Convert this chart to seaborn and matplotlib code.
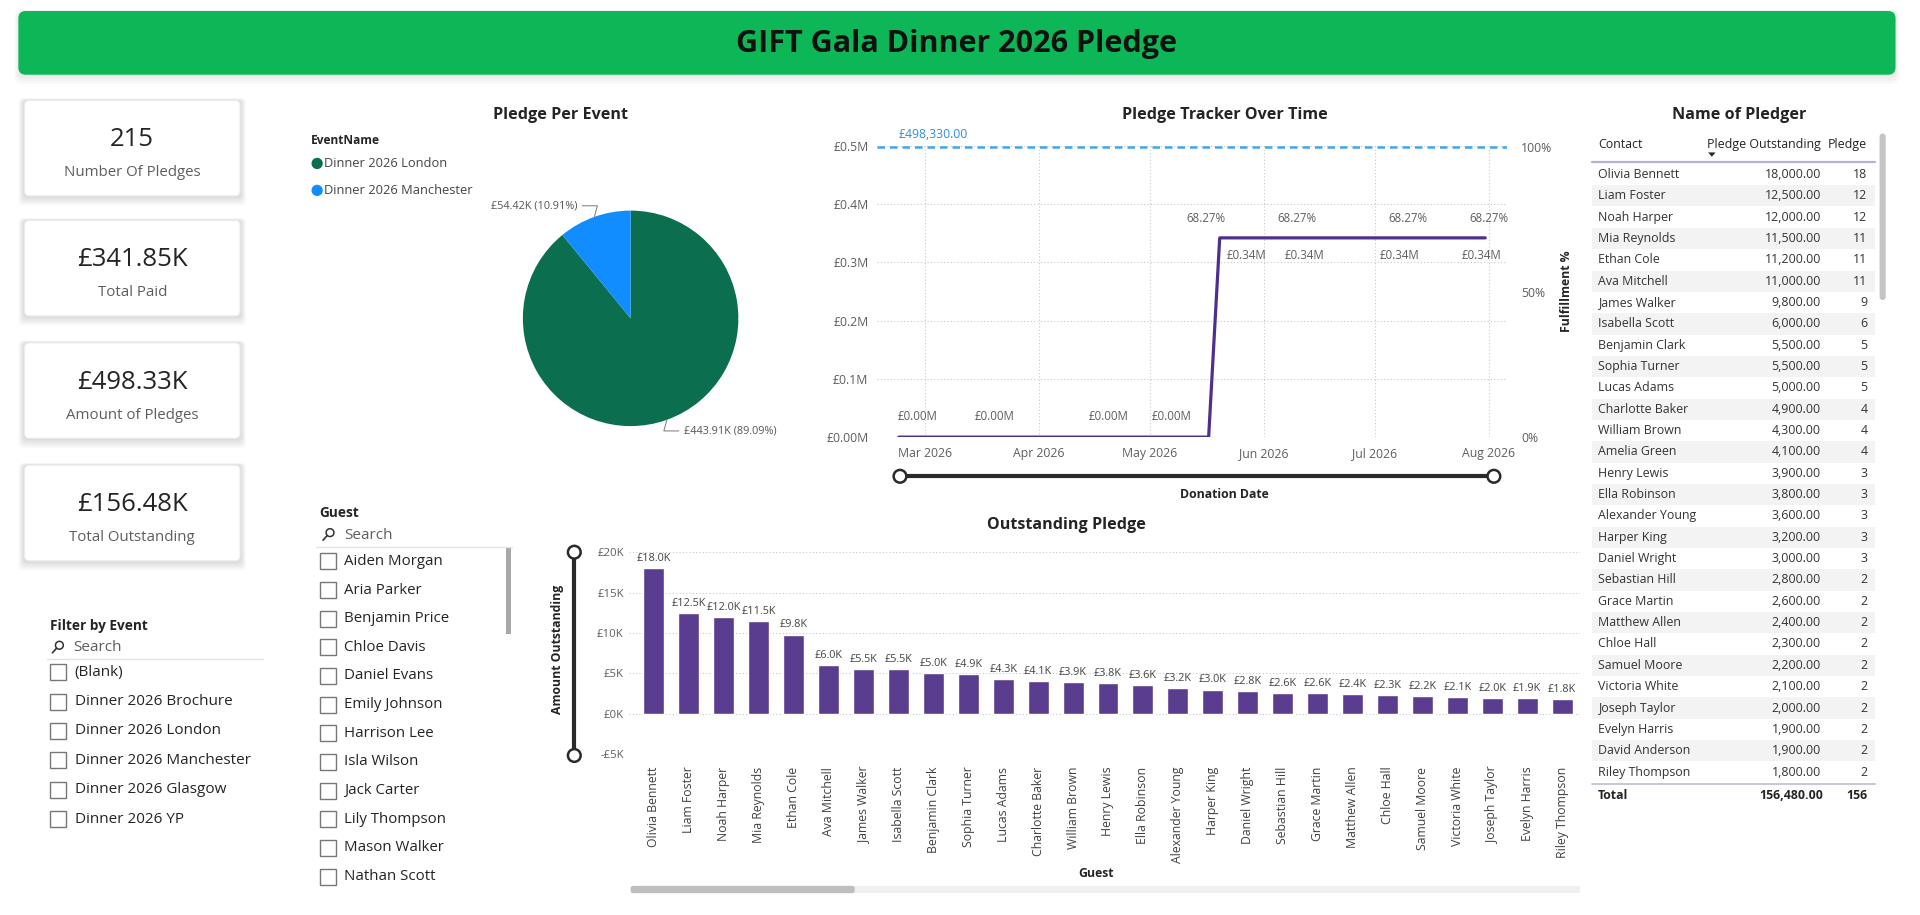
import numpy as np
import pandas as pd
import matplotlib
matplotlib.use("Agg")
import matplotlib.pyplot as plt
import matplotlib.dates as mdates
from matplotlib.ticker import FuncFormatter, FixedLocator
from matplotlib.patches import FancyBboxPatch, Rectangle, Circle, Polygon
import seaborn as sns

sns.set_theme(style="white")
plt.rcParams["font.family"] = ["Open Sans", "DejaVu Sans"]

# ---------------- data ----------------
dashboard_title = "GIFT Gala Dinner 2026 Pledge"
kpi_values = ["215", "£341.85K", "£498.33K", "£156.48K"]
kpi_labels = ["Number Of Pledges", "Total Paid", "Amount of Pledges", "Total Outstanding"]

event_options = ["(Blank)", "Dinner 2026 Brochure", "Dinner 2026 London",
                 "Dinner 2026 Manchester", "Dinner 2026 Glasgow", "Dinner 2026 YP"]
guest_options = ["Aiden Morgan", "Aria Parker", "Benjamin Price", "Chloe Davis",
                 "Daniel Evans", "Emily Johnson", "Harrison Lee", "Isla Wilson",
                 "Jack Carter", "Lily Thompson", "Mason Walker", "Nathan Scott"]

pie_events = ["Dinner 2026 London", "Dinner 2026 Manchester"]
pie_values = [443910, 54420]
pie_pct = [89.09, 10.91]
pie_colors = ["#0B6E4F", "#118DFF"]

donation_dates = pd.to_datetime(["2026-02-22", "2026-02-27", "2026-03-20", "2026-04-20",
                                 "2026-05-07", "2026-05-17", "2026-05-20", "2026-06-11",
                                 "2026-07-09", "2026-07-31"])
paid_cumulative = [0, 0, 0, 0, 0, 0, 341850, 341850, 341850, 341850]
fulfilment_pct = [0, 0, 0, 0, 0, 0, 68.27, 68.27, 68.27, 68.27]
point_labelled = [False, True, True, True, True, False, True, True, True, True]
pledge_target = 498330.00

bar_guests = ["Olivia Bennett", "Liam Foster", "Noah Harper", "Mia Reynolds", "Ethan Cole",
              "Ava Mitchell", "James Walker", "Isabella Scott", "Benjamin Clark",
              "Sophia Turner", "Lucas Adams", "Charlotte Baker", "William Brown",
              "Henry Lewis", "Ella Robinson", "Alexander Young", "Harper King",
              "Daniel Wright", "Sebastian Hill", "Grace Martin", "Matthew Allen",
              "Chloe Hall", "Samuel Moore", "Victoria White", "Joseph Taylor",
              "Evelyn Harris", "Riley Thompson"]
bar_outstanding = [18000, 12500, 12000, 11500, 9800, 6000, 5500, 5500, 5000, 4900, 4300,
                   4100, 3900, 3800, 3600, 3200, 3000, 2800, 2600, 2600, 2400, 2300,
                   2200, 2100, 2000, 1900, 1800]

table_contacts = ["Olivia Bennett", "Liam Foster", "Noah Harper", "Mia Reynolds", "Ethan Cole",
                  "Ava Mitchell", "James Walker", "Isabella Scott", "Benjamin Clark",
                  "Sophia Turner", "Lucas Adams", "Charlotte Baker", "William Brown",
                  "Amelia Green", "Henry Lewis", "Ella Robinson", "Alexander Young",
                  "Harper King", "Daniel Wright", "Sebastian Hill", "Grace Martin",
                  "Matthew Allen", "Chloe Hall", "Samuel Moore", "Victoria White",
                  "Joseph Taylor", "Evelyn Harris", "David Anderson", "Riley Thompson"]
table_outstanding = [18000, 12500, 12000, 11500, 11200, 11000, 9800, 6000, 5500, 5500, 5000,
                     4900, 4300, 4100, 3900, 3800, 3600, 3200, 3000, 2800, 2600, 2400,
                     2300, 2200, 2100, 2000, 1900, 1900, 1800]
table_pledges = [18, 12, 12, 11, 11, 11, 9, 6, 5, 5, 5, 4, 4, 4, 3, 3, 3, 3, 3, 2, 2, 2,
                 2, 2, 2, 2, 2, 2, 2]
table_total_outstanding = 156480.00
table_total_pledges = 156

# ---------------- layout helpers ----------------
W, H = 1568.0, 747.3
fig = plt.figure(figsize=(19.2, 9.15), dpi=100, facecolor="white")


def rect(x0, y0, x1, y1):
    return [x0 / W, 1 - y1 / H, (x1 - x0) / W, (y1 - y0) / H]


DARK = "#252423"
GREY = "#605E5C"
TITLE_FS = 11.6

bg = fig.add_axes([0, 0, 1, 1])
bg.set_xlim(0, W)
bg.set_ylim(H, 0)
bg.axis("off")

# title bar
for k in range(4):
    bg.add_patch(FancyBboxPatch((15 - k, 9 - k * 0.3), 1533 + 2 * k, 53 + 2.5 * k,
                                boxstyle="round,pad=0,rounding_size=6",
                                fc="#000000", ec="none", alpha=0.025))
bg.add_patch(FancyBboxPatch((15, 9), 1533, 52, boxstyle="round,pad=0,rounding_size=6",
                            fc="#0DB757", ec="none"))
bg.text(781, 36, dashboard_title, ha="center", va="center", fontsize=22,
        fontweight="bold", color="#111111")

# KPI cards
card_tops = [82, 180, 280, 380]
for top, val, lab in zip(card_tops, kpi_values, kpi_labels):
    for k in range(1, 7):
        bg.add_patch(FancyBboxPatch((20 - k * 0.8, top - k * 0.3), 176 + k * 1.6, 78 + k * 1.6,
                                    boxstyle="round,pad=0,rounding_size=4",
                                    fc="#000000", ec="none", alpha=0.022))
    bg.add_patch(FancyBboxPatch((20, top), 176, 78, boxstyle="round,pad=0,rounding_size=4",
                                fc="white", ec="#ECECEC", lw=0.8))
    bg.text(108, top + 32, val, ha="center", va="center", fontsize=18.5, color=DARK)
    bg.text(108, top + 59, lab, ha="center", va="center", fontsize=10.8, color=GREY)


def search_icon(x, y):
    bg.add_patch(Circle((x + 3.5, y - 2), 3.2, fc="none", ec="#333333", lw=1.1))
    bg.plot([x + 1.2, x - 2.2], [y + 0.4, y + 4.2], color="#333333", lw=1.2)


# Filter by Event slicer
bg.text(41, 511, "Filter by Event", ha="left", va="center", fontsize=9.8,
        fontweight="bold", color=DARK)
search_icon(45, 529)
bg.text(60, 529, "Search", ha="left", va="center", fontsize=11, color=GREY)
bg.plot([38, 215], [538.5, 538.5], color="#E3E3E3", lw=1)
for i, opt in enumerate(event_options):
    yy = 549 + 24 * i
    bg.add_patch(Rectangle((41, yy - 6.5), 13, 13, fc="white", ec="#777777", lw=1))
    bg.text(61, yy, opt, ha="left", va="center", fontsize=11, color=DARK)

# Guest slicer
bg.text(261, 419, "Guest", ha="left", va="center", fontsize=9.8, fontweight="bold", color=DARK)
search_icon(266, 437)
bg.text(281, 437, "Search", ha="left", va="center", fontsize=11, color=GREY)
bg.plot([258, 418], [446.5, 446.5], color="#E3E3E3", lw=1)
bg.add_patch(Rectangle((413, 447), 4.5, 71, fc="#A8A8A8", ec="none"))
for i, g in enumerate(guest_options):
    yy = 458.5 + 23.4 * i
    bg.add_patch(Rectangle((261, yy - 6.5), 13, 13, fc="white", ec="#777777", lw=1))
    bg.text(281, yy, g, ha="left", va="center", fontsize=10.8, color=DARK)

# ---------------- pie ----------------
bg.text(458, 94, "Pledge Per Event", ha="center", va="center", fontsize=TITLE_FS,
        fontweight="bold", color=DARK)
bg.text(254, 115, "EventName", ha="left", va="center", fontsize=8.6, fontweight="bold", color=DARK)
for i, (ev, colr) in enumerate(zip(pie_events, pie_colors)):
    yy = 133.5 + 22 * i
    bg.add_patch(Circle((259, yy), 4.6, fc=colr, ec="none"))
    bg.text(264.5, yy, ev, ha="left", va="center", fontsize=9.3, color="#444444")

axp = fig.add_axes(rect(427, 172, 603, 348))
wedges, _ = axp.pie(pie_values, colors=pie_colors, startangle=90, counterclock=False,
                    wedgeprops=dict(linewidth=0))
axp.set_xlim(-1.0, 1.0)
axp.set_ylim(-1.0, 1.0)
axp.set_aspect("equal")
label_offsets = [(12, -8), (-12, 8)]
for w, v, pc, off in zip(wedges, pie_values, pie_pct, label_offsets):
    ang = np.deg2rad((w.theta1 + w.theta2) / 2)
    xy = (np.cos(ang), np.sin(ang))
    txt = f"£{v / 1000:.2f}K ({pc:.2f}%)"
    axp.annotate(txt, xy=xy, xytext=off, textcoords="offset points",
                 ha="left" if off[0] > 0 else "right", va="center", fontsize=7.8,
                 color="#555555", annotation_clip=False,
                 arrowprops=dict(arrowstyle="-", color="#888888", lw=0.8, shrinkA=1, shrinkB=0,
                                 connectionstyle="angle,angleA=0,angleB=75,rad=0"))

# ---------------- line chart ----------------
bg.text(1000, 94, "Pledge Tracker Over Time", ha="center", va="center", fontsize=TITLE_FS,
        fontweight="bold", color=DARK)
axl = fig.add_axes(rect(716, 119, 1231, 357))
axl.set_facecolor("none")
line_df = pd.DataFrame({"date": donation_dates, "paid": paid_cumulative})
sns.lineplot(data=line_df, x="date", y="paid", ax=axl, color="#4E2F8C", linewidth=2.3)
axl.axhline(pledge_target, color="#41A5EE", lw=1.8, ls=(0, (3, 2)))
axl.text(donation_dates[0], pledge_target + 9000, f"£{pledge_target:,.2f}", ha="left",
         va="bottom", fontsize=8.8, color="#2B8FE6")
axl.set_xlim(pd.Timestamp("2026-02-16"), pd.Timestamp("2026-08-06"))
axl.set_ylim(0, 500000)
axl.yaxis.set_major_locator(FixedLocator(np.arange(0, 500001, 100000)))
axl.yaxis.set_major_formatter(FuncFormatter(lambda v, p: "£0.00M" if v == 0 else f"£{v / 1e6:.1f}M"))
axl.xaxis.set_major_locator(mdates.MonthLocator(bymonth=[3, 4, 5, 6, 7, 8]))
axl.xaxis.set_major_formatter(mdates.DateFormatter("%b %Y"))
axl.grid(True, color="#C8C8C8", ls=(0, (1, 2)), lw=0.8)
for s in axl.spines.values():
    s.set_visible(False)
axl.tick_params(axis="both", length=0, labelsize=8.8, labelcolor=GREY)
axl.tick_params(axis="x", pad=7)
axl.tick_params(axis="y", pad=6)
axl.set_xlabel("")
axl.set_ylabel("")
# label nudges (points) to avoid the rising line, as the reference does
pct_dx = [-10, -3, 3, 3]
val_dx = [19, 3, -3, -3]
k = 0
for d, v, pct, show in zip(donation_dates, paid_cumulative, fulfilment_pct, point_labelled):
    if not show:
        continue
    if v == 0:
        axl.annotate(f"£{v / 1e6:.2f}M", (d, v), xytext=(0, 10), textcoords="offset points",
                     ha="center", va="bottom", fontsize=8.3, color=GREY)
    else:
        axl.annotate(f"{pct:.2f}%", (d, v), xytext=(pct_dx[k], 9), textcoords="offset points",
                     ha="center", va="bottom", fontsize=8.3, color=GREY)
        axl.annotate(f"£{v / 1e6:.2f}M", (d, v), xytext=(val_dx[k], -8),
                     textcoords="offset points", ha="center", va="top", fontsize=8.3, color=GREY)
        k += 1
axr = axl.twinx()
axr.set_ylim(0, 500000 / pledge_target * 100)
axr.yaxis.set_major_locator(FixedLocator([0, 50, 100]))
axr.yaxis.set_major_formatter(FuncFormatter(lambda v, p: f"{v:.0f}%"))
axr.tick_params(axis="y", length=0, labelsize=8.8, labelcolor=GREY, pad=10)
axr.grid(False)
for s in axr.spines.values():
    s.set_visible(False)
bg.text(1279, 238, "Fulfillment %", ha="center", va="center", rotation=90, fontsize=8.8,
        fontweight="bold", color=DARK)
# date slider
bg.plot([735, 1220], [389, 389], color="#2A2A2A", lw=3, solid_capstyle="butt")
for cx in (735, 1220):
    bg.add_patch(Circle((cx, 389), 5.2, fc="white", ec="#2A2A2A", lw=1.8, zorder=5))
bg.text(1000, 404, "Donation Date", ha="center", va="center", fontsize=8.8,
        fontweight="bold", color=DARK)

# ---------------- bar chart ----------------
bg.text(871, 429, "Outstanding Pledge", ha="center", va="center", fontsize=TITLE_FS,
        fontweight="bold", color=DARK)
axb = fig.add_axes(rect(514, 451, 1290, 616))
axb.set_facecolor("none")
bar_df = pd.DataFrame({"guest": bar_guests, "outstanding": bar_outstanding})
sns.barplot(data=bar_df, x="guest", y="outstanding", ax=axb, color="#5B3D8F",
            saturation=1, width=0.6)
axb.bar_label(axb.containers[0], labels=[f"£{v / 1000:.1f}K" for v in bar_outstanding],
              padding=3, fontsize=7.8, color="#444444")
axb.set_xlim(-0.7, len(bar_guests) - 0.5)
axb.set_ylim(-5000, 20000)
axb.yaxis.set_major_locator(FixedLocator(np.arange(-5000, 20001, 5000)))
axb.yaxis.set_major_formatter(FuncFormatter(
    lambda v, p: f"£{v / 1000:.0f}K" if v >= 0 else f"-£{abs(v) / 1000:.0f}K"))
axb.grid(True, axis="y", color="#C8C8C8", ls=(0, (1, 2)), lw=0.8)
axb.set_axisbelow(True)
for s in axb.spines.values():
    s.set_visible(False)
axb.tick_params(axis="both", length=0, labelsize=8.2, labelcolor=GREY)
axb.tick_params(axis="x", rotation=90, pad=9, labelcolor="#404040", labelsize=8.8)
axb.tick_params(axis="y", pad=4)
axb.set_xlabel("")
axb.set_ylabel("")
bg.text(455, 530, "Amount Outstanding", ha="center", va="center", rotation=90, fontsize=8.8,
        fontweight="bold", color=DARK)
bg.plot([469, 469], [451, 617], color="#2A2A2A", lw=3, solid_capstyle="butt")
for cy in (451, 617):
    bg.add_patch(Circle((469, cy), 5.2, fc="white", ec="#2A2A2A", lw=1.8, zorder=5))
bg.text(895, 713, "Guest", ha="center", va="center", fontsize=8.8, fontweight="bold", color=DARK)
bg.add_patch(Rectangle((515, 723.5), 775, 6, fc="#F0F0F0", ec="none"))
bg.add_patch(FancyBboxPatch((515, 723.5), 183, 6, boxstyle="round,pad=0,rounding_size=2",
                            fc="#BEBEBE", ec="none"))

# ---------------- table ----------------
bg.text(1420, 94, "Name of Pledger", ha="center", va="center", fontsize=TITLE_FS,
        fontweight="bold", color=DARK)
X_NAME, X_VAL, X_CNT = 1305, 1487, 1525
TFS = 8.9
bg.text(X_NAME, 118, "Contact", ha="left", va="center", fontsize=TFS, color=DARK)
bg.text(X_VAL, 118, "Pledge Outstanding", ha="right", va="center", fontsize=TFS, color=DARK)
bg.text(X_CNT, 118, "Pledge", ha="right", va="center", fontsize=TFS, color=DARK)
bg.add_patch(Polygon([[1395, 124.5], [1401, 124.5], [1398, 128]], closed=True,
                     fc=DARK, ec="none"))
bg.plot([1300, 1531], [132.5, 132.5], color="#B6B2D6", lw=1.6)
ROW0, ROWH = 142.5, 17.43
for i, (c, v, n) in enumerate(zip(table_contacts, table_outstanding, table_pledges)):
    yy = ROW0 + ROWH * i
    if i % 2 == 1:
        bg.add_patch(Rectangle((1300, yy - ROWH / 2), 231, ROWH, fc="#F3F3F3", ec="none"))
    bg.text(X_NAME, yy, c, ha="left", va="center", fontsize=TFS, color="#333333")
    bg.text(X_VAL, yy, f"{v:,.2f}", ha="right", va="center", fontsize=TFS, color="#333333")
    bg.text(X_CNT, yy, f"{n}", ha="right", va="center", fontsize=TFS, color="#333333")
ytot = ROW0 + ROWH * len(table_contacts) - 3
bg.plot([1300, 1531], [ytot - 5, ytot - 5], color="#BDBBCF", lw=1.2)
bg.text(X_NAME, ytot + 5, "Total", ha="left", va="center", fontsize=TFS, fontweight="bold",
        color=DARK)
bg.text(X_VAL + 2, ytot + 5, f"{table_total_outstanding:,.2f}", ha="right", va="center",
        fontsize=TFS, fontweight="bold", color=DARK)
bg.text(X_CNT, ytot + 5, f"{table_total_pledges}", ha="right", va="center", fontsize=TFS,
        fontweight="bold", color=DARK)
bg.add_patch(FancyBboxPatch((1535, 109), 5, 136, boxstyle="round,pad=0,rounding_size=2.5",
                            fc="#C4C4C4", ec="none"))

fig.savefig("out.png", dpi=100, facecolor="white")
